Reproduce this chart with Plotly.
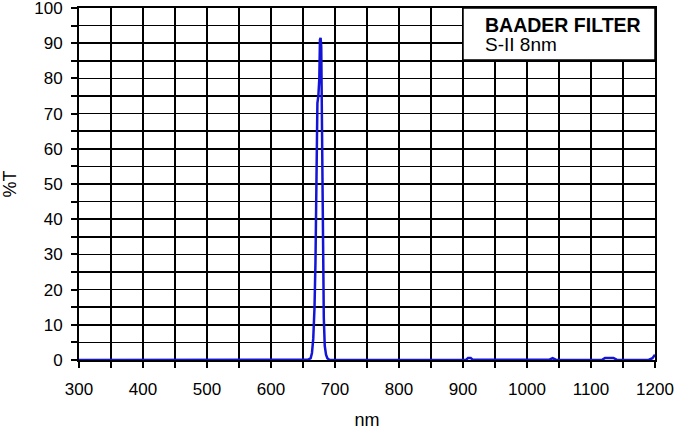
import plotly.graph_objects as go

# Transmission curve (wavelength in nm, transmission in %T)
wavelength_nm = [300, 500, 650, 658, 662, 664, 666, 668, 669.5, 670.5, 671.5, 672.5,
                 674, 675.5, 676.5, 677.5, 678.5, 679.5, 680.5, 681.5, 682.5, 684,
                 686, 688, 691, 700, 800, 900, 905, 908, 912, 915, 1000, 1030, 1035,
                 1040, 1045, 1050, 1110, 1118, 1122, 1135, 1140, 1150, 1190, 1196, 1200]
transmission = [0, 0, 0, 0.1, 0.5, 2, 6, 15, 28, 45, 65, 73,
                75, 80, 91, 91.5, 89, 68, 60, 35, 12, 4,
                1.5, 0.5, 0.1, 0, 0, 0, 0.1, 0.6, 0.6, 0.1, 0, 0, 0.1,
                0.5, 0.1, 0, 0, 0.1, 0.6, 0.6, 0.1, 0, 0, 0.5, 1.5]

x_ticks = [300, 400, 500, 600, 700, 800, 900, 1000, 1100, 1200]
y_ticks = [0, 10, 20, 30, 40, 50, 60, 70, 80, 90, 100]

title_line1 = "BAADER FILTER"
title_line2 = "S-II 8nm"

font_family = "Liberation Sans, Arial, sans-serif"

fig = go.Figure()
fig.add_trace(go.Scatter(
    x=wavelength_nm, y=transmission, mode="lines",
    line=dict(color="rgb(20,20,215)", width=2.5),
    hoverinfo="skip", showlegend=False,
))

axis_common = dict(
    showline=True, linecolor="black", linewidth=2, mirror=True,
    showgrid=True, gridcolor="black", gridwidth=1.5,
    ticks="outside", ticklen=6, tickwidth=2, tickcolor="black",
    zeroline=False, automargin=False, ticklabeloverflow="allow",
    tickfont=dict(family=font_family, size=17, color="black"),
)

fig.update_layout(
    width=679, height=430,
    margin=dict(l=79, r=24, t=8, b=70),
    paper_bgcolor="white", plot_bgcolor="white",
    xaxis=dict(
        range=[300, 1200], tickvals=x_ticks, ticklabelstandoff=7,
        minor=dict(dtick=50, showgrid=True, gridcolor="black", gridwidth=1.5,
                   ticks="outside", ticklen=6, tickwidth=2, tickcolor="black"),
        title=dict(text="nm", font=dict(family=font_family, size=18, color="black"),
                   standoff=26),
        **axis_common,
    ),
    yaxis=dict(
        range=[0, 100], tickvals=y_ticks, ticklabelstandoff=5,
        minor=dict(dtick=5, showgrid=True, gridcolor="black", gridwidth=1.5,
                   ticks="outside", ticklen=6, tickwidth=2, tickcolor="black"),
        title=dict(text="%T", font=dict(family=font_family, size=18, color="black"),
                   standoff=16),
        **axis_common,
    ),
    shapes=[dict(type="rect", xref="x", yref="y", x0=900, x1=1200, y0=85.2, y1=100,
                 fillcolor="white", line=dict(color="black", width=1.5), layer="above")],
    annotations=[
        dict(x=931, y=95.2, xref="x", yref="y", text="<b>" + title_line1 + "</b>",
             showarrow=False, xanchor="left", yanchor="middle",
             font=dict(family=font_family, size=19.5, color="black")),
        dict(x=931, y=89.5, xref="x", yref="y", text=title_line2,
             showarrow=False, xanchor="left", yanchor="middle",
             font=dict(family=font_family, size=19, color="black")),
    ],
)

fig.write_html("out.html",
               config={"displayModeBar": False, "staticPlot": True},
               post_script="document.body.style.margin='0';document.body.style.overflow='hidden';")
